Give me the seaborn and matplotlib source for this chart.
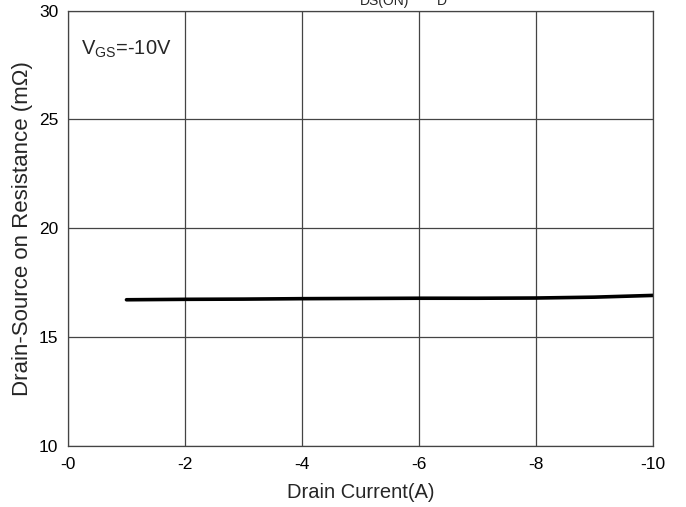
import numpy as np
import pandas as pd
import matplotlib
matplotlib.use("Agg")
import matplotlib.pyplot as plt
import seaborn as sns

# curve
corriente = [-1, -2, -3, -4, -5, -6, -7, -8, -9, -9.5, -10]
resistencia = [16.71, 16.73, 16.74, 16.76, 16.77, 16.78, 16.78, 16.79, 16.83, 16.87, 16.91]
x_ticks = [0, -2, -4, -6, -8, -10]
x_labels = ['-0', '-2', '-4', '-6', '-8', '-10']
y_ticks = [10, 15, 20, 25, 30]

df = pd.DataFrame({'corriente': corriente, 'resistencia': resistencia})

sns.set_theme(style='white')
plt.rcParams['font.family'] = ['Liberation Sans', 'DejaVu Sans']
plt.rcParams['mathtext.fontset'] = 'custom'
plt.rcParams['mathtext.rm'] = 'Liberation Sans'

fig = plt.figure(figsize=(6.86, 5.07), dpi=100)
ax = fig.add_axes([0.0991, 0.1209, 0.8528, 0.8580])

sns.lineplot(data=df, x='corriente', y='resistencia', color='black', linewidth=2.6, ax=ax)

ax.set_xlim(0, -10)
ax.set_ylim(10, 30)
ax.set_xticks(x_ticks)
ax.set_xticklabels(x_labels)
ax.set_yticks(y_ticks)
ax.grid(True, color='#444444', linewidth=0.9)
for s in ax.spines.values():
    s.set_color('#444444')
    s.set_linewidth(0.9)
ax.tick_params(axis='both', labelsize=12.5, length=0, colors='black')
ax.tick_params(axis='y', pad=7)
ax.tick_params(axis='x', pad=8)
ax.set_xlabel('Drain Current(A)', fontsize=14.5, labelpad=8)
ax.set_ylabel('Drain-Source on Resistance (m\u03a9)', fontsize=16, labelpad=4)

ax.text(0.022, 0.91, r'V$_{\mathregular{GS}}$=-10V', transform=ax.transAxes,
        fontsize=14.5, va='center', ha='left')

# title "R_DS(ON) - I_D", mostly cut off at top edge: only subscripts show
fig.text(0.5233, 1.003, 'R', fontsize=15, ha='right', va='baseline')
fig.text(0.5248, 0.9901, 'DS(ON)', fontsize=10, ha='left', va='baseline')
fig.text(0.612, 1.003, '-', fontsize=15, ha='center', va='baseline')
fig.text(0.6356, 1.003, 'I', fontsize=15, ha='right', va='baseline')
fig.text(0.637, 0.9901, 'D', fontsize=10, ha='left', va='baseline')

fig.savefig('out.png', dpi=100)
